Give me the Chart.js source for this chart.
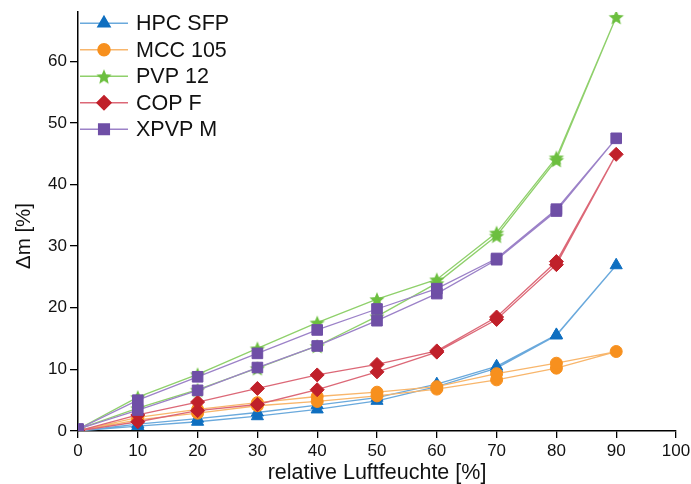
<!DOCTYPE html>
<html>
<head>
<meta charset="utf-8">
<script src="https://cdn.jsdelivr.net/npm/chart.js@4/dist/chart.umd.min.js"></script>
<style>
  html, body { margin: 0; padding: 0; background: #fff; }
  #wrap { width: 691px; height: 484px; }
</style>
</head>
<body>
<div id="wrap"><canvas id="myChart" width="691" height="484"></canvas></div>
<script>
// relative humidity steps (sorption goes up, desorption comes back down)
const rh = [0, 10, 20, 30, 40, 50, 60, 70, 80, 90];
const xTicks = [0, 10, 20, 30, 40, 50, 60, 70, 80, 90, 100];
const yTicks = [0, 10, 20, 30, 40, 50, 60];

const names = ['HPC SFP', 'MCC 105', 'PVP 12', 'COP F', 'XPVP M'];
const xTitle = 'relative Luftfeuchte [%]';
const yTitle = 'Δm [%]';

// sorption branch, values at rh
const hpcAds  = [0, 0.8, 1.5, 2.4, 3.5, 4.9, 7.2, 10.2, 15.5, 26.9];
const mccAds  = [0, 1.8, 2.9, 4.1, 4.8, 5.7, 6.8, 8.3, 10.2, 12.9];
const pvpAds  = [0.3, 3.7, 6.7, 10.2, 13.8, 18.6, 24.0, 31.7, 44.0, 67.2];
const copAds  = [0, 1.5, 3.3, 4.3, 6.7, 9.6, 12.8, 18.1, 27.0, 44.9];
const xpvpAds = [0.3, 3.4, 6.6, 10.3, 13.8, 17.9, 22.3, 27.8, 35.7, 47.5];

// desorption branch, values at rh
const hpcDes  = [0, 1.1, 2.0, 3.0, 4.2, 5.4, 7.6, 10.5, 15.6, 26.9];
const mccDes  = [0, 2.2, 3.5, 4.6, 5.6, 6.3, 7.2, 9.3, 11.0, 12.9];
const pvpDes  = [0.3, 5.5, 9.2, 13.4, 17.6, 21.4, 24.6, 32.2, 44.4, 67.2];
const copDes  = [0, 2.6, 4.7, 6.9, 9.1, 10.8, 13.0, 18.5, 27.5, 44.9];
const xpvpDes = [0.3, 5.0, 8.8, 12.6, 16.4, 19.8, 23.1, 28.0, 36.0, 47.5];

const markerColors = ['#0f6fc0', '#f7901e', '#6cbf3f', '#c0202a', '#6f4fa6'];
const lineColors   = ['#6aa9dc', '#f8b66c', '#8fd06b', '#dc6877', '#9c82c8'];
const font = '"Liberation Sans", Arial, sans-serif';

// filled five point star, chart.js 'star' is only strokes
function makeStar(color, r) {
  const c = document.createElement('canvas');
  const s = Math.ceil(r * 2 + 2);
  c.width = s; c.height = s;
  const g = c.getContext('2d');
  g.fillStyle = color;
  g.beginPath();
  for (let i = 0; i < 10; i++) {
    const rr = i % 2 === 0 ? r : r * 0.45;
    const a = -Math.PI / 2 + i * Math.PI / 5;
    const px = s / 2 + Math.cos(a) * rr;
    const py = s / 2 + 1 + Math.sin(a) * rr;
    if (i === 0) g.moveTo(px, py); else g.lineTo(px, py);
  }
  g.closePath();
  g.fill();
  return c;
}

const styles = ['triangle', 'circle', makeStar(markerColors[2], 8), 'rectRot', 'rect'];
const radii = [7, 6, 8, 7, 7.5];

function loop(ads, des) {
  const pts = rh.map((x, i) => ({ x: x, y: ads[i] }));
  for (let i = rh.length - 2; i >= 0; i--) pts.push({ x: rh[i], y: des[i] });
  return pts;
}

const series = [
  loop(hpcAds, hpcDes),
  loop(mccAds, mccDes),
  loop(pvpAds, pvpDes),
  loop(copAds, copDes),
  loop(xpvpAds, xpvpDes)
];

const datasets = names.map((n, i) => ({
  label: n,
  data: series[i],
  borderColor: lineColors[i],
  borderWidth: 1.3,
  pointStyle: styles[i],
  pointRadius: radii[i],
  pointBackgroundColor: markerColors[i],
  pointBorderColor: markerColors[i],
  pointBorderWidth: 1,
  fill: false,
  tension: 0,
  order: names.length - i
}));

// legend with line + marker, and the two axis titles
const lineLegend = {
  id: 'lineLegend',
  afterDraw(chart) {
    const ctx = chart.ctx;
    chart.data.datasets.forEach((ds, i) => {
      const y = 23.3 + i * 26.5;
      ctx.save();
      ctx.strokeStyle = ds.borderColor;
      ctx.lineWidth = 1.5;
      ctx.beginPath();
      ctx.moveTo(80, y);
      ctx.lineTo(128, y);
      ctx.stroke();
      ctx.fillStyle = ds.pointBackgroundColor;
      ctx.strokeStyle = ds.pointBorderColor;
      Chart.helpers.drawPoint(ctx, { pointStyle: ds.pointStyle, radius: ds.pointRadius, borderWidth: 1, rotation: 0 }, 104, y);
      ctx.fillStyle = '#111';
      ctx.font = '21.5px ' + font;
      ctx.textBaseline = 'middle';
      ctx.fillText(ds.label, 136, y + 1);
      ctx.restore();
    });

    const area = chart.chartArea;
    ctx.save();
    ctx.fillStyle = '#111';
    ctx.textAlign = 'center';
    ctx.textBaseline = 'middle';
    ctx.font = '21.5px ' + font;
    ctx.fillText(xTitle, (area.left + area.right) / 2, 473);
    ctx.translate(24, 236);
    ctx.rotate(-Math.PI / 2);
    ctx.font = '20.5px ' + font;
    ctx.fillText(yTitle, 0, 0);
    ctx.restore();
  }
};

const ctx = document.getElementById('myChart').getContext('2d');
const myChart = new Chart(ctx, {
  type: 'line',
  data: { datasets: datasets },
  options: {
    responsive: false,
    animation: false,
    layout: { padding: { top: 12, right: 15, left: 0, bottom: 0 } },
    plugins: {
      legend: { display: false },
      tooltip: { enabled: false }
    },
    scales: {
      x: {
        type: 'linear',
        min: 0,
        max: 100,
        afterBuildTicks: (s) => { s.ticks = xTicks.map(v => ({ value: v })); },
        afterFit: (s) => { s.height = 53; s.paddingRight = 0; s.paddingLeft = 0; },
        grid: { drawOnChartArea: false, drawTicks: true, tickLength: 7, color: '#000', lineWidth: 1.3 },
        border: { color: '#000', width: 1.5 },
        ticks: { color: '#111', padding: 3, maxRotation: 0, font: { size: 17, family: font } }
      },
      y: {
        type: 'linear',
        min: 0,
        max: 68,
        afterBuildTicks: (s) => { s.ticks = yTicks.map(v => ({ value: v })); },
        afterFit: (s) => { s.width = 78; s.paddingTop = 0; s.paddingBottom = 0; },
        grid: { drawOnChartArea: false, drawTicks: true, tickLength: 8, color: '#000', lineWidth: 1.3 },
        border: { color: '#000', width: 1.5 },
        ticks: { color: '#111', padding: 3, font: { size: 17, family: font } }
      }
    }
  },
  plugins: [lineLegend]
});
</script>
</body>
</html>
